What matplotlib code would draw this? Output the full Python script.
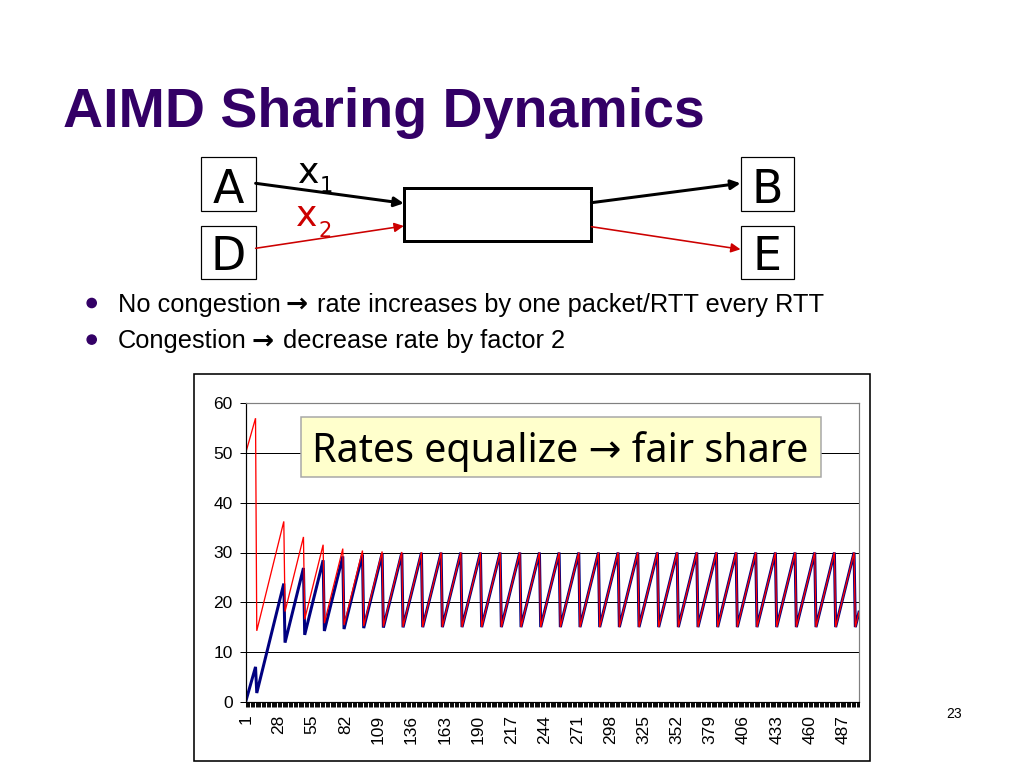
import numpy as np
import matplotlib
matplotlib.use("Agg")
import matplotlib.pyplot as plt
from matplotlib.patches import Rectangle, Circle

# --- chart data (sawtooth corners) ---
peak_x = [9, 32, 48, 64, 80, 96, 112, 128, 144, 160, 176, 192, 208, 224, 240, 256,
          272, 288, 304, 320, 336, 352, 368, 384, 400, 416, 432, 448, 464, 480, 496]
trough_x = [10, 33, 49, 65, 81, 97, 113, 129, 145, 161, 177, 193, 209, 225, 241, 257,
            273, 289, 305, 321, 337, 353, 369, 385, 401, 417, 433, 449, 465, 481, 497]

red_start, red_end = 50, 18
red_peak = [57, 36.25, 33.13, 31.56, 30.78, 30.39, 30.2, 30.1, 30.05, 30.02, 30.01,
            30, 30, 30, 30, 30, 30, 30, 30, 30, 30, 30, 30, 30, 30, 30, 30, 30, 30, 30, 30]
red_trough = [14.25, 18.13, 16.56, 15.78, 15.39, 15.2, 15.1, 15.05, 15.02, 15.01, 15,
              15, 15, 15, 15, 15, 15, 15, 15, 15, 15, 15, 15, 15, 15, 15, 15, 15, 15, 15, 15]

blue_start, blue_end = 0, 18
blue_peak = [7, 23.75, 26.88, 28.44, 29.22, 29.61, 29.8, 29.9, 29.95, 29.98, 29.99,
             30, 30, 30, 30, 30, 30, 30, 30, 30, 30, 30, 30, 30, 30, 30, 30, 30, 30, 30, 30]
blue_trough = [1.75, 11.88, 13.44, 14.22, 14.61, 14.8, 14.9, 14.95, 14.98, 14.99, 15,
               15, 15, 15, 15, 15, 15, 15, 15, 15, 15, 15, 15, 15, 15, 15, 15, 15, 15, 15, 15]

n_points = 500
xtick_labels = [1, 28, 55, 82, 109, 136, 163, 190, 217, 244, 271, 298, 325, 352,
                379, 406, 433, 460, 487]
ytick_labels = [0, 10, 20, 30, 40, 50, 60]

bullets = [("No congestion", "rate increases by one packet/RTT every RTT"),
           ("Congestion", "decrease rate by factor 2")]


def corners(start, peaks, troughs, end):
    xs, ys = [1], [start]
    for px, p, tx, t in zip(peak_x, peaks, trough_x, troughs):
        xs += [px, tx]
        ys += [p, t]
    xs.append(n_points)
    ys.append(end)
    return xs, ys


W, H = 1024, 768
fig = plt.figure(figsize=(W / 100, H / 100), dpi=100)
PX = 72 / 100  # points per pixel

# chart axes, placed where the plot area sits on the slide
L, R, T, B = 245.7, 859, 403.3, 701.7
ax = fig.add_axes([L / W, 1 - B / H, (R - L) / W, (B - T) / H], zorder=1)

bx, by = corners(blue_start, blue_peak, blue_trough, blue_end)
rx, ry = corners(red_start, red_peak, red_trough, red_end)
ax.plot(bx, by, color="#000080", lw=3.0 * PX, solid_joinstyle="miter")
ax.plot(rx, ry, color="#FF0000", lw=1.3 * PX, solid_joinstyle="miter")

ax.set_xlim(1, n_points)
ax.set_ylim(0, 60)
ax.set_yticks(ytick_labels)
ax.set_xticks(xtick_labels)
ax.set_xticks(np.arange(1, n_points + 1), minor=True)
ax.set_xticklabels([str(v) for v in xtick_labels], rotation=90)
ax.yaxis.grid(True, color="black", lw=1.0 * PX)
ax.set_axisbelow(True)

for lab in ax.get_xticklabels() + ax.get_yticklabels():
    lab.set_fontfamily("Liberation Sans")
    lab.set_fontsize(12.5)
ax.tick_params(axis="y", direction="out", length=6 * PX, width=1 * PX, pad=7 * PX)
ax.tick_params(axis="x", which="both", direction="out", length=5 * PX,
               width=0.95 * PX, pad=8 * PX)
for side in ["left", "bottom"]:
    ax.spines[side].set_color("black")
    ax.spines[side].set_linewidth(1.2 * PX)
for side in ["top", "right"]:
    ax.spines[side].set_color("#808080")
    ax.spines[side].set_linewidth(1.2 * PX)

# overlay for slide content
ov = fig.add_axes([0, 0, 1, 1], zorder=3)
ov.set_xlim(0, W)
ov.set_ylim(H, 0)
ov.axis("off")
ov.patch.set_alpha(0)
rend = fig.canvas.get_renderer()

purple = "#330066"
ov.text(63, 127, "AIMD Sharing Dynamics", fontfamily="Liberation Sans",
        fontweight="bold", fontsize=40, color=purple, va="baseline")

for yb, (before, after) in zip([311.7, 348.3], bullets):
    ov.add_patch(Circle((91.7, yb - 8.7), 4.6, color=purple))
    t1 = ov.text(118, yb, before, fontfamily="Liberation Sans",
                 fontsize=18.3, color="black", va="baseline")
    x = 118 + t1.get_window_extent(rend).width + 5
    ta = ov.text(x, yb, "\u2192", fontfamily="DejaVu Sans", fontweight="bold",
                 fontsize=19, color="black", va="baseline")
    x += ta.get_window_extent(rend).width + 9
    ov.text(x, yb, after, fontfamily="Liberation Sans",
            fontsize=18.3, color="black", va="baseline")

# network diagram
boxes = {"A": (201, 157, 255.6, 211), "D": (201, 226, 255.6, 278.5),
         "B": (740.5, 157, 794, 211), "E": (740.5, 226, 794, 278.5)}
for name, (x0, y0, x1, y1) in boxes.items():
    ov.add_patch(Rectangle((x0, y0), x1 - x0, y1 - y0, fill=False,
                           ec="black", lw=1.2 * PX))
    ov.text((x0 + x1) / 2, y1 - 8, name, fontfamily="DejaVu Sans", fontsize=33,
            ha="center", va="baseline", color="black")
ov.add_patch(Rectangle((403.8, 188.3), 187.6, 52.7, fill=False, ec="black", lw=3 * PX))

arrows = [((255.6, 183.3), (403.8, 203.3), "black", 3.0),
          ((255.6, 248.3), (403.8, 226.0), "#CC0000", 1.6),
          ((591.4, 202.7), (740.5, 183.3), "black", 3.0),
          ((591.4, 226.7), (740.5, 249.3), "#CC0000", 1.6)]
for (p0, p1, col, w) in arrows:
    ov.annotate("", xy=p1, xytext=p0,
                arrowprops=dict(arrowstyle="-|>", color=col, lw=w * PX,
                                shrinkA=0, shrinkB=0, mutation_scale=14))

ov.text(298, 183, "x", fontfamily="DejaVu Sans", fontsize=26, color="black", va="baseline")
ov.text(320, 191.7, "1", fontfamily="DejaVu Sans", fontsize=15, color="black", va="baseline")
ov.text(296, 226, "x", fontfamily="DejaVu Sans", fontsize=26, color="#CC0000", va="baseline")
ov.text(318, 237, "2", fontfamily="DejaVu Sans", fontsize=15, color="#CC0000", va="baseline")

# chart frame and callout
ov.add_patch(Rectangle((194, 374), 676, 387, fill=False, ec="black", lw=1.6 * PX))
ov.add_patch(Rectangle((301, 417), 520, 60, fc="#FFFFCC", ec="#A6A6A6", lw=1.5 * PX))
ov.text(311.7, 461.7, "Rates equalize \u2192 fair share",
        fontfamily=["Noto Sans", "DejaVu Sans"], fontsize=28.4, color="black",
        va="baseline")

ov.text(954, 718, "23", fontfamily="Liberation Sans", fontsize=10, ha="center",
        va="baseline", color="black")

fig.savefig("out.png", dpi=100)
